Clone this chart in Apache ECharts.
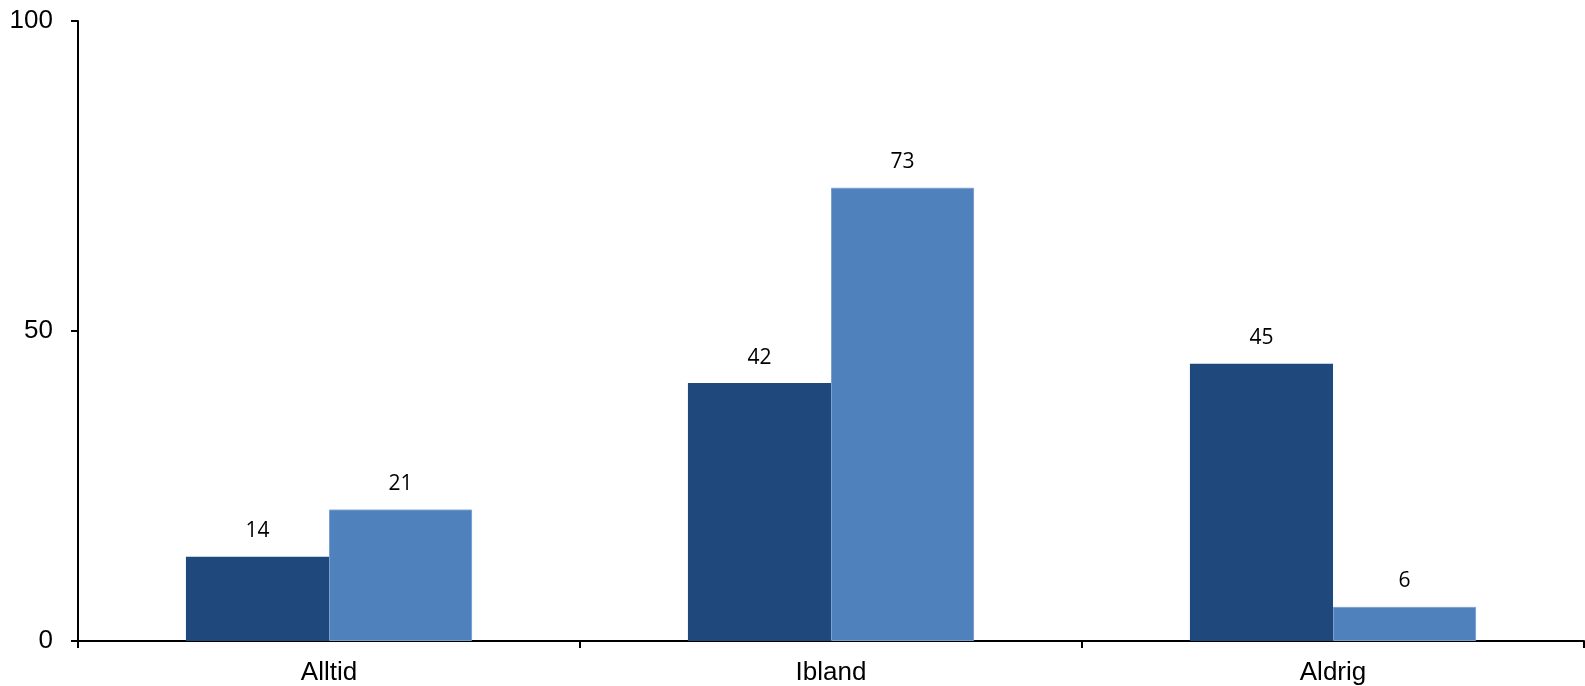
<!DOCTYPE html>
<html>
<head>
<meta charset="utf-8">
<script src="https://cdn.jsdelivr.net/npm/echarts@6/dist/echarts.min.js"></script>
<style>
html,body{margin:0;padding:0;background:#fff;}
#chart{width:1585px;height:686px;}
</style>
</head>
<body>
<div id="chart"></div>
<script>
const categories = ['Alltid', 'Ibland', 'Aldrig'];
const seriesA = [13.6, 41.6, 44.7];
const seriesB = [21.2, 73.1, 5.5];
const yTicks = [0, 50, 100];

const chart = echarts.init(document.getElementById('chart'));
const labelStyle = {
  show: true,
  position: 'top',
  distance: 15,
  fontFamily: 'Open Sans',
  fontSize: 21,
  color: '#000',
  formatter: p => Math.round(p.value)
};
chart.setOption({
  animation: false,
  grid: {left: 78, right: 1, top: 21, bottom: 45, containLabel: false},
  xAxis: {
    type: 'category',
    data: categories,
    axisLine: {lineStyle: {color: '#000', width: 2}},
    axisTick: {show: true, length: 7, lineStyle: {color: '#000', width: 2}},
    axisLabel: {fontFamily: 'Liberation Sans', fontSize: 26, color: '#000', margin: 19}
  },
  yAxis: {
    type: 'value',
    min: yTicks[0],
    max: yTicks[yTicks.length - 1],
    interval: yTicks[1] - yTicks[0],
    splitLine: {show: false},
    axisLine: {show: true, lineStyle: {color: '#000', width: 2}},
    axisTick: {show: true, length: 7, lineStyle: {color: '#000', width: 2}},
    axisLabel: {fontFamily: 'Liberation Sans', fontSize: 26, color: '#000', margin: 25}
  },
  series: [
    {
      type: 'bar',
      data: seriesA,
      barGap: '0%',
      barCategoryGap: '43%',
      itemStyle: {color: '#1F497D'},
      label: labelStyle
    },
    {
      type: 'bar',
      data: seriesB,
      itemStyle: {color: '#4F81BD', borderColor: '#7A9FD0', borderWidth: 1},
      label: labelStyle
    }
  ]
});
</script>
</body>
</html>
